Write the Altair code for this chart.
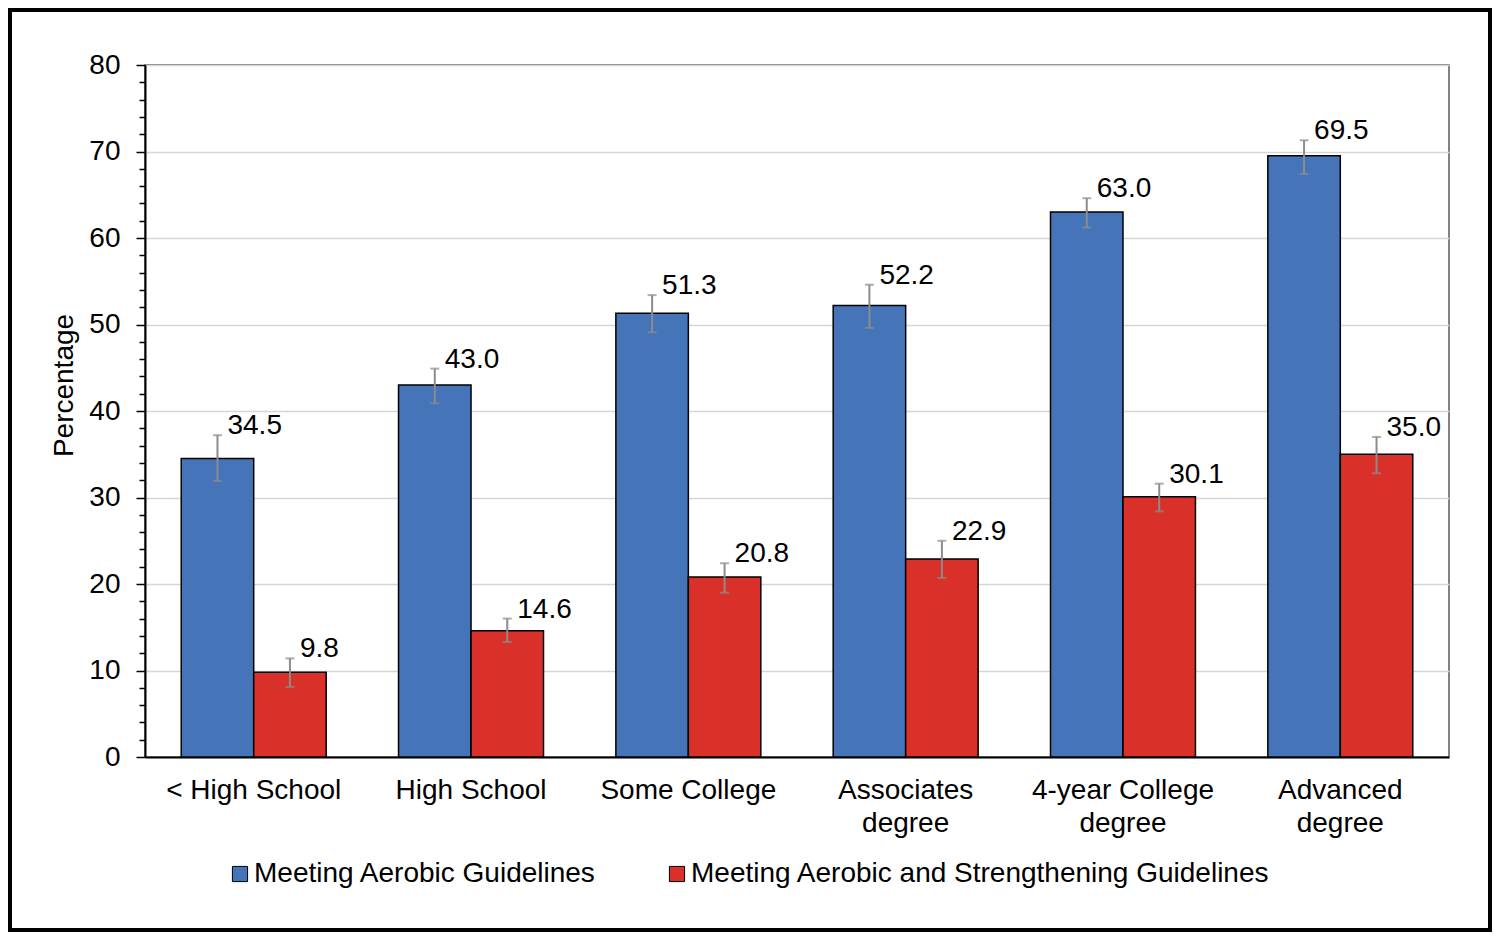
import altair as alt
import pandas as pd

categories = ["< High School", "High School", "Some College",
              "Associates degree", "4-year College degree", "Advanced degree"]
series = ["Meeting Aerobic Guidelines", "Meeting Aerobic and Strengthening Guidelines"]

aerobic = [34.5, 43.0, 51.3, 52.2, 63.0, 69.5]
aerobic_lo = [31.9, 40.9, 49.1, 49.6, 61.2, 67.4]
aerobic_hi = [37.2, 44.9, 53.4, 54.6, 64.6, 71.3]

strength = [9.8, 14.6, 20.8, 22.9, 30.1, 35.0]
strength_lo = [8.1, 13.3, 19.0, 20.7, 28.4, 32.8]
strength_hi = [11.4, 16.0, 22.4, 25.0, 31.6, 37.0]

colors = ["#4674B9", "#D9302A"]

rows = []
for i, c in enumerate(categories):
    rows.append({"cat": c, "series": series[0], "value": aerobic[i],
                 "lo": aerobic_lo[i], "hi": aerobic_hi[i]})
    rows.append({"cat": c, "series": series[1], "value": strength[i],
                 "lo": strength_lo[i], "hi": strength_hi[i]})
df = pd.DataFrame(rows)

FONT = "Liberation Sans"
W, H = 1304, 692

x_enc = alt.X(
    "cat:N", sort=categories,
    scale=alt.Scale(paddingInner=0.333, paddingOuter=0.1667),
    axis=alt.Axis(
        title=None, labelAngle=0, ticks=False, labelFontSize=28, labelFont=FONT,
        labelColor="black", labelPadding=19, labelLineHeight=33, labelLimit=500,
        domainColor="black", domainWidth=2,
        labelExpr="indexof(datum.label, ' degree') > 0 ? [replace(datum.label, ' degree', ''), 'degree'] : datum.label",
    ),
)
xo_enc = alt.XOffset("series:N", sort=series,
                     scale=alt.Scale(paddingInner=0, paddingOuter=0))

y_scale = alt.Scale(domain=[0, 80], nice=False)
y_axis = alt.Axis(
    title="Percentage", titleFontSize=28, titleFont=FONT, titleFontWeight="normal",
    titleColor="black", titlePadding=10, titleY=320,
    values=list(range(0, 81, 2)),
    labelExpr="datum.value % 10 === 0 ? datum.label : ''",
    labelOverlap=False, labelFontSize=28, labelFont=FONT, labelColor="black",
    labelPadding=16,
    tickSize={"condition": {"test": "datum.value % 10 === 0", "value": 9}, "value": 6},
    tickColor="black", tickWidth=1.5,
    gridOpacity={"condition": {"test": "datum.value % 10 === 0", "value": 1}, "value": 0},
    gridColor="#D6D6D6", gridWidth=1.5,
    domainColor="black", domainWidth=2,
)

base = alt.Chart(df)

bars = base.mark_bar(stroke="black", strokeWidth=1.5).encode(
    x=x_enc, xOffset=xo_enc,
    y=alt.Y("value:Q", scale=y_scale, axis=y_axis),
    color=alt.Color(
        "series:N", sort=series,
        scale=alt.Scale(domain=series, range=colors),
        legend=alt.Legend(
            title=None, orient="none", direction="horizontal",
            legendX=81, legendY=795, padding=0,
            symbolType="square", symbolSize=230, symbolStrokeColor="black",
            symbolStrokeWidth=1, symbolOpacity=1,
            labelFontSize=28, labelFont=FONT, labelColor="black",
            labelOffset=0, columnPadding=66, labelLimit=1000,
        ),
    ),
)

err_rule = base.mark_rule(color="#8C8C8C", strokeWidth=2).encode(
    x=x_enc, xOffset=xo_enc,
    y=alt.Y("lo:Q", scale=y_scale, axis=y_axis), y2="hi:Q",
)
cap_hi = base.mark_tick(color="#8C8C8C", size=9, thickness=2).encode(
    x=x_enc, xOffset=xo_enc, y=alt.Y("hi:Q", scale=y_scale, axis=y_axis),
)
cap_lo = base.mark_tick(color="#8C8C8C", size=9, thickness=2).encode(
    x=x_enc, xOffset=xo_enc, y=alt.Y("lo:Q", scale=y_scale, axis=y_axis),
)
labels = base.mark_text(align="left", baseline="middle", dx=10, dy=-9,
                        fontSize=28, font=FONT, color="black").encode(
    x=x_enc, xOffset=xo_enc, y=alt.Y("hi:Q", scale=y_scale, axis=y_axis),
    text=alt.Text("value:Q", format=".1f"),
)

border = alt.Chart(alt.Data(values=[{}])).mark_rect(
    fill=None, stroke="black", strokeWidth=4
).encode(
    x=alt.value(-135), x2=alt.value(1345), y=alt.value(-55), y2=alt.value(865)
)

chart = alt.layer(bars, err_rule, cap_hi, cap_lo, labels, border).properties(
    width=W, height=H, padding=0, background="white"
).configure_view(stroke="#595959", strokeWidth=1.5)

chart.save("out.html", embed_options={"renderer": "svg", "actions": False})
